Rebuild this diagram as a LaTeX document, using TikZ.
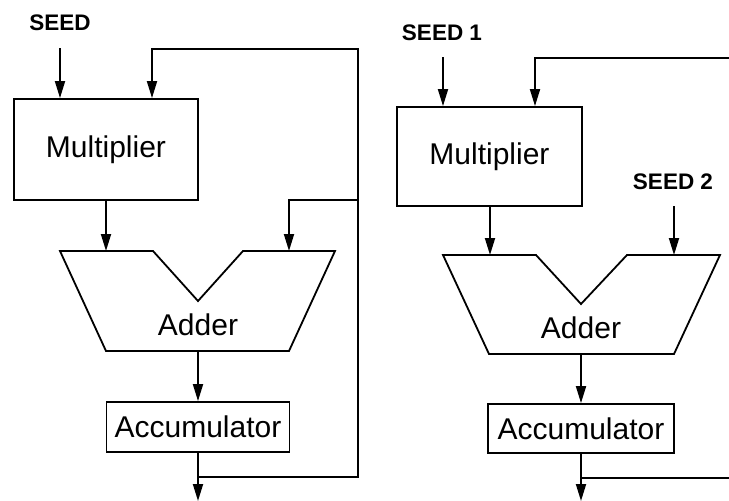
\documentclass[tikz,border=0pt]{standalone}
\usepackage{fontspec}
\setmainfont{Liberation Sans}
\usetikzlibrary{arrows.meta}
\begin{document}
\begin{tikzpicture}[x=1pt,y=-1pt,
  wire/.style={line width=1.8pt,line join=miter},
  arr/.style={wire,-{Triangle[length=17pt,width=10pt]}},
  block/.style={draw,line width=1.8pt,inner sep=0pt,font=\fontsize{30}{33}\selectfont},
  adderlabel/.style={inner sep=0pt,font=\fontsize{30}{33}\selectfont},
  seedlabel/.style={inner sep=0pt,font=\bfseries\fontsize{22.5}{26}\selectfont}]
\useasboundingbox (0,0) rectangle (729,501);

% ---------- single-seed generator ----------
\node[seedlabel] (seedA) at (60,23) {SEED};
\coordinate (seedAtail) at (60,48);
\node[block,minimum width=184pt,minimum height=101pt] (mulA) at (106,149.5) {Multiplier};
\draw[wire] (60,251) -- (153,251) -- (198,301) -- (243,251) -- (335,251)
            -- (289,351) -- (106,351) -- cycle;
\node[adderlabel] (addA) at (198,325) {Adder};
\coordinate (addAin1) at (106,251);
\coordinate (addAin2) at (289,251);
\coordinate (addAout) at (198,351);
\node[block,minimum width=183pt,minimum height=50pt] (accA) at (198,427) {Accumulator};
\coordinate (jA) at (198,477);
\coordinate (outA) at (198,501);
\coordinate (loopAbr) at (358,477);
\coordinate (loopAtr) at (358,49);
\coordinate (loopAtl) at (152,49);
\coordinate (brA) at (358,200);
\coordinate (brAl) at (289,200);

\draw[arr] (seedAtail) -- (seedAtail |- mulA.north);
\draw[arr] (mulA.south -| addAin1) -- (addAin1);
\draw[arr] (addAout) -- (accA.north);
\draw[arr] (accA.south) -- (outA);
\draw[arr] (jA) -- (loopAbr) -- (loopAtr) -- (loopAtl) -- (loopAtl |- mulA.north);
\draw[arr] (brA) -- (brAl) -- (addAin2);

% ---------- two-seed generator ----------
\node[seedlabel] (seedB) at (442,33) {SEED 1};
\coordinate (seedBtail) at (443,57);
\node[block,minimum width=185pt,minimum height=99pt] (mulB) at (489.5,156.5) {Multiplier};
\node[seedlabel] (seedC) at (673,182) {SEED 2};
\coordinate (seedCtail) at (674,206);
\draw[wire] (443,255) -- (536,255) -- (581,304) -- (627,255) -- (720,255)
            -- (674,354) -- (489,354) -- cycle;
\node[adderlabel] (addB) at (581,328) {Adder};
\coordinate (addBin1) at (490,255);
\coordinate (addBin2) at (674,255);
\coordinate (addBout) at (581,354);
\node[block,minimum width=186pt,minimum height=49pt] (accB) at (581,428.5) {Accumulator};
\coordinate (jB) at (581,478);
\coordinate (outB) at (581,501);
\coordinate (loopBr) at (729,478);
\coordinate (loopBtr) at (729,58);
\coordinate (loopBtl) at (535,58);

\draw[arr] (seedBtail) -- (seedBtail |- mulB.north);
\draw[arr] (mulB.south -| addBin1) -- (addBin1);
\draw[arr] (seedCtail) -- (addBin2);
\draw[arr] (addBout) -- (accB.north);
\draw[arr] (accB.south) -- (outB);
\draw[wire] (jB) -- (loopBr);
\draw[arr] (loopBtr) -- (loopBtl) -- (loopBtl |- mulB.north);
\end{tikzpicture}
\end{document}
